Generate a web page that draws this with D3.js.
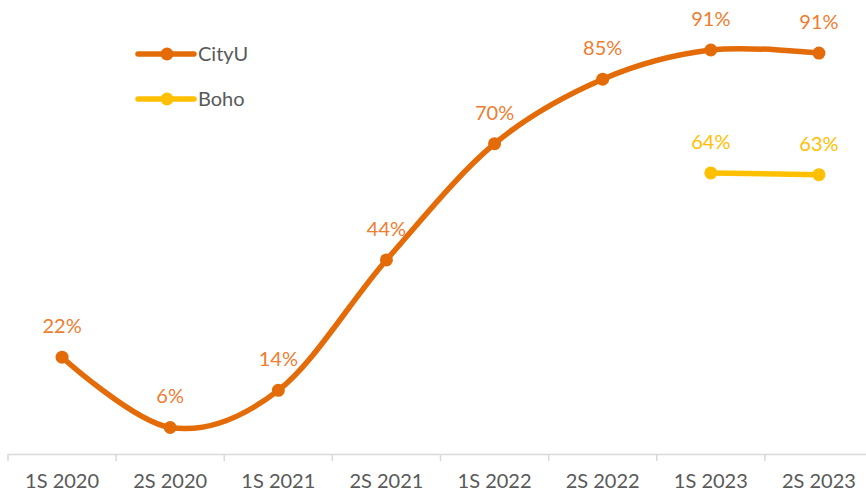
<!DOCTYPE html>
<html>
<head>
<meta charset="utf-8">
<script src="https://cdn.jsdelivr.net/npm/d3@7"></script>
<style>
  body { margin: 0; background: #fff; }
  svg { display: block; font-family: Lato, "Noto Sans", sans-serif; }
</style>
</head>
<body>
<section></section>
<script>
// datos
var categorias = ["1S 2020", "2S 2020", "1S 2021", "2S 2021", "1S 2022", "2S 2022", "1S 2023", "2S 2023"]
var cityU = [21.9, 6.0, 14.4, 43.9, 70.2, 84.8, 91.4, 90.7]
var boho = [null, null, null, null, null, null, 63.6, 63.2]
var series = ["CityU", "Boho"]

var width = 866
var height = 496

var colorLinea = { CityU: "#E36C09", Boho: "#FFC000" }
var colorEtiqueta = { CityU: "#ED7D31", Boho: "#FFC000" }

var lienzo = d3.select("section")
    .append("svg")
    .attr("width", width)
    .attr("height", height)

// escala X por categorias, el grafico sigue mas alla del borde derecho
var escalaX = d3.scaleBand()
    .domain(categorias)
    .range([8, 873])

var escalaY = d3.scaleLinear()
    .domain([0, 100])
    .range([454, 12])

var centro = function (c) { return escalaX(c) + escalaX.bandwidth() / 2 }

// eje X
var ejeX = d3.axisBottom(escalaX)
    .tickSize(0)
    .tickPadding(20)

var gEje = lienzo.append("g")
    .attr("transform", "translate(0,454)")
    .call(ejeX)

gEje.select(".domain").attr("stroke", "#D9D9D9").attr("stroke-width", 1.5)
gEje.selectAll("text")
    .attr("fill", "#595959")
    .attr("font-size", 20)
    .attr("font-family", "Lato, 'Noto Sans', sans-serif")

// marcas entre categorias
var limites = categorias.map(function (c) { return escalaX(c) })
gEje.selectAll("line.limite")
    .data(limites)
    .enter()
    .append("line")
    .attr("class", "limite")
    .attr("x1", function (d) { return d })
    .attr("x2", function (d) { return d })
    .attr("y1", 0)
    .attr("y2", 7)
    .attr("stroke", "#D9D9D9")
    .attr("stroke-width", 1.5)

// lineas
var datos = {
    CityU: categorias.map(function (c, i) { return { cat: c, v: cityU[i] } }),
    Boho: categorias.map(function (c, i) { return { cat: c, v: boho[i] } }).filter(function (d) { return d.v !== null })
}

var linea = d3.line()
    .x(function (d) { return centro(d.cat) })
    .y(function (d) { return escalaY(d.v) })
    .curve(d3.curveCardinal.tension(0))

series.forEach(function (s) {
    lienzo.append("path")
        .datum(datos[s])
        .attr("d", linea)
        .attr("fill", "none")
        .attr("stroke", colorLinea[s])
        .attr("stroke-width", 5.5)
        .attr("stroke-linecap", "round")

    lienzo.selectAll("circle." + s)
        .data(datos[s])
        .enter()
        .append("circle")
        .attr("class", s)
        .attr("cx", function (d) { return centro(d.cat) })
        .attr("cy", function (d) { return escalaY(d.v) })
        .attr("r", 6.5)
        .attr("fill", colorLinea[s])

    lienzo.selectAll("text." + s)
        .data(datos[s])
        .enter()
        .append("text")
        .attr("class", s)
        .attr("x", function (d) { return centro(d.cat) })
        .attr("y", function (d) { return escalaY(d.v) - 31 })
        .attr("dy", "0.35em")
        .attr("text-anchor", "middle")
        .attr("font-size", 20)
        .attr("fill", colorEtiqueta[s])
        .text(function (d) { return Math.round(d.v) + "%" })
})

// leyenda
var leyenda = lienzo.selectAll("g.leyenda")
    .data(series)
    .enter()
    .append("g")
    .attr("class", "leyenda")
    .attr("transform", function (d, i) { return "translate(138," + (54 + i * 45) + ")" })

leyenda.append("line")
    .attr("x1", 0)
    .attr("x2", 56)
    .attr("stroke", function (d) { return colorLinea[d] })
    .attr("stroke-width", 5.5)
    .attr("stroke-linecap", "round")

leyenda.append("circle")
    .attr("cx", 29)
    .attr("r", 6.5)
    .attr("fill", function (d) { return colorLinea[d] })

leyenda.append("text")
    .attr("x", 60)
    .attr("dy", "0.35em")
    .attr("font-size", 20)
    .attr("fill", "#595959")
    .text(function (d) { return d })
</script>
</body>
</html>
